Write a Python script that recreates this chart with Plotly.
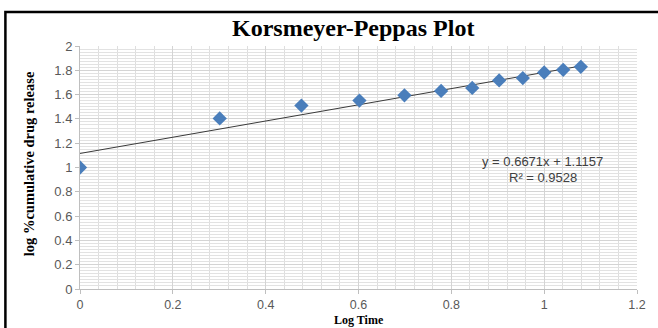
import plotly.graph_objects as go

# Data
log_time = [0, 0.301, 0.477, 0.602, 0.699, 0.778, 0.845, 0.903, 0.954, 1.0, 1.041, 1.079]
log_release = [1.0, 1.404, 1.51, 1.551, 1.594, 1.63, 1.655, 1.717, 1.736, 1.782, 1.804, 1.829]

trend_x = [0, 1.079]
trend_y = [1.1157, 1.8355]

x_ticks = [0, 0.2, 0.4, 0.6, 0.8, 1.0, 1.2]
x_tick_labels = ["0", "0.2", "0.4", "0.6", "0.8", "1", "1.2"]
y_ticks = [0, 0.2, 0.4, 0.6, 0.8, 1.0, 1.2, 1.4, 1.6, 1.8, 2.0]
y_tick_labels = ["0", "0.2", "0.4", "0.6", "0.8", "1", "1.2", "1.4", "1.6", "1.8", "2"]

title_text = "Korsmeyer-Peppas Plot"
x_title = "Log Time"
y_title = "log %cumulative drug release"
eq_text = "y = 0.6671x + 1.1157"
r2_text = "R² = 0.9528"

W, H = 658, 328
ML, MR, MT, MB = 80, 18, 46, 39
PW, PH = W - ML - MR, H - MT - MB

def px_x(p):
    return (p - ML) / PW

def px_y(p):
    return (H - MB - p) / PH

fig = go.Figure()

fig.add_trace(go.Scatter(
    x=trend_x, y=trend_y, mode="lines",
    line=dict(color="#3a3a3a", width=1),
    showlegend=False, hoverinfo="skip"))

fig.add_trace(go.Scatter(
    x=log_time, y=log_release, mode="markers",
    marker=dict(symbol="diamond", size=11, color="#4a7ebb",
                line=dict(width=0)),
    showlegend=False))

tick_font = dict(family="Liberation Sans, Arial, sans-serif", size=13, color="#595959")
xtick_font = dict(family="Liberation Sans, Arial, sans-serif", size=12.5, color="#595959")

fig.update_layout(
    width=W, height=H,
    margin=dict(l=ML, r=MR, t=MT, b=MB, pad=0),
    paper_bgcolor="white", plot_bgcolor="white",
    font=dict(family="Liberation Sans, Arial, sans-serif"),
    xaxis=dict(
        range=[0, 1.2], tickvals=x_ticks, ticktext=x_tick_labels,
        showgrid=True, gridcolor="#d4d4d4", gridwidth=1,
        minor=dict(dtick=0.04, tick0=0, showgrid=True, gridcolor="#dedede", gridwidth=1),
        showline=True, linecolor="#bfbfbf", linewidth=1,
        ticks="outside", ticklen=4, tickcolor="#bfbfbf",
        tickfont=xtick_font, zeroline=False, fixedrange=True,
    ),
    yaxis=dict(
        range=[0, 2], tickvals=y_ticks, ticktext=y_tick_labels,
        showgrid=True, gridcolor="#d4d4d4", gridwidth=1,
        minor=dict(dtick=0.025, tick0=0, showgrid=True, gridcolor="#e2e2e2", gridwidth=1),
        showline=True, linecolor="#bfbfbf", linewidth=1,
        ticks="outside", ticklen=4, tickcolor="#bfbfbf",
        tickfont=tick_font, zeroline=False, fixedrange=True,
    ),
    annotations=[
        dict(text="<b>" + title_text + "</b>", xref="paper", yref="paper",
             x=px_x(354), y=px_y(28), xanchor="center", yanchor="middle",
             showarrow=False,
             font=dict(family="Liberation Serif, Times New Roman, serif", size=24, color="black")),
        dict(text="<b>" + y_title + "</b>", xref="paper", yref="paper",
             x=px_x(29), y=px_y(164), xanchor="center", yanchor="middle",
             textangle=-90, showarrow=False,
             font=dict(family="Liberation Serif, Times New Roman, serif", size=14.5, color="black")),
        dict(text="<b>" + x_title + "</b>", xref="paper", yref="paper",
             x=px_x(361), y=px_y(328), xanchor="center", yanchor="bottom",
             showarrow=False, borderpad=0,
             font=dict(family="Liberation Serif, Times New Roman, serif", size=12, color="black")),
        dict(text=eq_text, xref="paper", yref="paper",
             x=px_x(545), y=px_y(161), xanchor="center", yanchor="middle",
             showarrow=False,
             font=dict(family="Liberation Sans, Arial, sans-serif", size=13, color="#404040")),
        dict(text=r2_text, xref="paper", yref="paper",
             x=px_x(545), y=px_y(177), xanchor="center", yanchor="middle",
             showarrow=False,
             font=dict(family="Liberation Sans, Arial, sans-serif", size=13, color="#404040")),
    ],
    shapes=[
        dict(type="rect", xref="paper", yref="paper",
             x0=px_x(5), x1=px_x(670), y0=px_y(340), y1=px_y(12),
             line=dict(color="black", width=2.5), fillcolor="rgba(0,0,0,0)", layer="above"),
    ],
)

fig.write_html("out.html")
